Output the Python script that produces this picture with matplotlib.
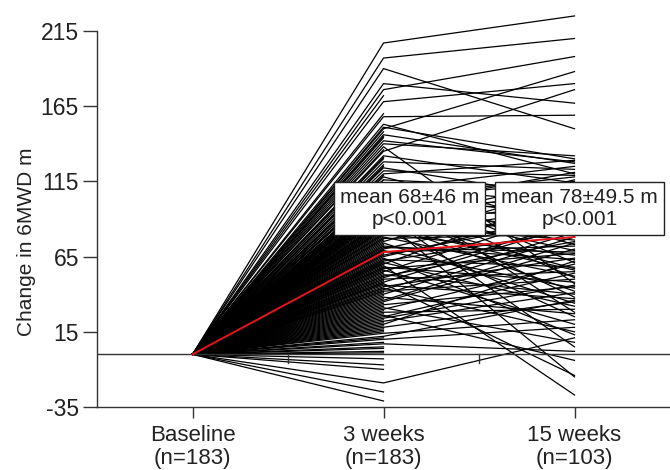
import matplotlib
matplotlib.use("Agg")
import matplotlib.pyplot as plt

plt.rcParams['font.family'] = ['Liberation Sans', 'DejaVu Sans']
plt.rcParams['axes.unicode_minus'] = False

# time points
timepoints = ["Baseline\n(n=183)", "3 weeks\n(n=183)", "15 weeks\n(n=103)"]

# change in 6MWD (m) at 3 weeks for patients who also have a 15 week value
week3_followed = [207, 197, 176, 150, 168, 135, 180, 158, 190, 140,
                  151, 120, 146, 110, 128, 98, 153, 104, 88, 132,
                  75, 116, 92, 60, 124, 84, 112, 70, 100, 55,
                  95, 107, 66, 82, 48, 118, 90, 62, 77, 101,
                  40, 86, 52, 108, 68, 35, 97, 57, 80, 45,
                  72, 114, 30, 63, 91, 50, 25, 78, 105, 42,
                  58, 138, 33, 69, 87, 22, 53, 99, 46, 18,
                  74, 61, 28, 109, 38, 83, 14, 56, 10, 44,
                  64, -19, 31, 93, 7, 26, 47, 89, 59, 142,
                  122, 103, 96, 79, 65, 51, 43, 36, 71, 20,
                  85, 24, 12]
week15 = [225, 210, 198, 188, 180, 176, 167, 159, 150, 132,
          130, 129, 127, 125, 123, 121, 120, 118, 116, 114,
          112, 110, 108, 106, 104, 102, 100, 99, 97, 95,
          93, 91, 90, 88, 86, 85, 83, 82, 80, 79,
          78, 76, 75, 73, 72, 70, 69, 67, 66, 64,
          63, 61, 60, 58, 57, 55, 54, 52, 51, 50,
          48, 47, 45, 44, 42, 41, 40, 38, 37, 35,
          34, 32, 30, 28, 27, 25, 23, 20, 18, 15,
          13, 11, 8, 5, 2, -4, -14, -15, -27, 128,
          119, 115, 105, 98, 94, 87, 81, 74, 68, 62,
          56, 46, 36]
# patients with only a 3 week value
week3_only = [-31, -25, -10, -7, -3, 1, 2, 4, 5, 8,
              11, 15, 16, 17, 19, 21, 23, 27, 29, 32,
              34, 37, 39, 41, 42, 44, 47, 49, 50, 52,
              54, 55, 57, 58, 60, 62, 63, 66, 67, 68,
              69, 70, 72, 73, 76, 77, 80, 81, 83, 84,
              86, 88, 89, 92, 94, 95, 97, 98, 100, 102,
              104, 106, 110, 113, 116, 119, 125, 126, 130, 131,
              136, 144, 145, 148, 160, 172, 106, 94, 61, 48]
mean_change = [0, 68, 78]

yticks = [-35, 15, 65, 115, 165, 215]

fig = plt.figure(figsize=(6.7, 4.7), dpi=100)
ax = fig.add_axes([97 / 670, 63 / 470, 573 / 670, 407 / 470])

txt = '#222222'
for a, b in zip(week3_followed, week15):
    ax.plot([0, 1, 2], [0, a, b], color='black', lw=0.9, clip_on=False)
for a in week3_only:
    ax.plot([0, 1], [0, a], color='black', lw=0.9, clip_on=False)
ax.plot([0, 1, 2], mean_change, color='#e8141c', lw=1.4, zorder=5)

ax.axhline(0, color='#333333', lw=1.0, zorder=4)
for xm in [0.5, 1.5]:
    ax.plot([xm, xm], [0, -6], color='#333333', lw=1.0, zorder=4)

ax.set_xlim(-0.5, 2.5)
ax.set_ylim(-35, 235.6)
ax.set_yticks(yticks)
ax.set_xticks([0, 1, 2])
ax.set_xticklabels(timepoints)
for s in ['top', 'right']:
    ax.spines[s].set_visible(False)
ax.spines['left'].set_bounds(-35, 215)
for s in ['left', 'bottom']:
    ax.spines[s].set_color('#333333')
    ax.spines[s].set_linewidth(1.0)
ax.tick_params(axis='y', length=10, width=1.0, color='#333333', labelsize=16.5,
               labelcolor=txt, pad=3)
ax.tick_params(axis='x', length=8, width=1.0, color='#333333', labelsize=16,
               labelcolor=txt, pad=5)
for lab in ax.get_xticklabels():
    lab.set_linespacing(1.15)
ax.set_ylabel('Change in 6MWD m', fontsize=15, color=txt)
ax.yaxis.set_label_coords(-0.106, 0.405)

box = dict(boxstyle='square,pad=0.3', fc='white', ec='#222222', lw=1.0)
ax.text(1.136, 97, 'mean 68±46 m\np<0.001', ha='center', va='center',
        fontsize=15, color=txt, bbox=box, zorder=10, linespacing=1.15)
ax.text(2.026, 97, 'mean 78±49.5 m\np<0.001', ha='center', va='center',
        fontsize=15, color=txt, bbox=box, zorder=10, linespacing=1.15)

fig.savefig('out.png', dpi=100)
